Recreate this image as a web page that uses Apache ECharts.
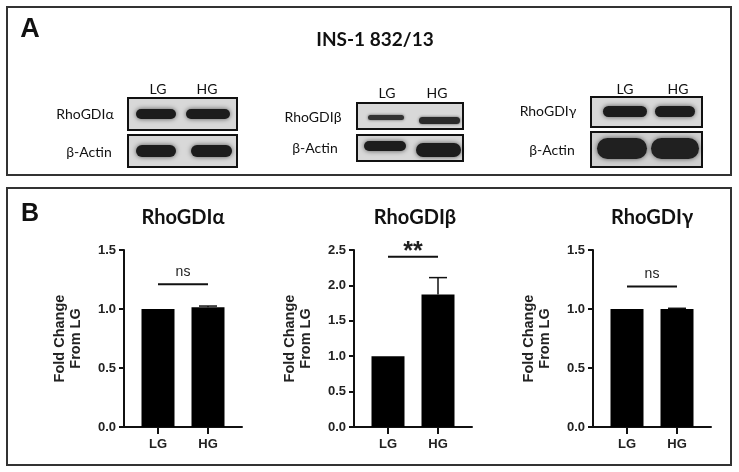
<!DOCTYPE html>
<html>
<head>
<meta charset="utf-8">
<script src="https://cdn.jsdelivr.net/npm/echarts@6/dist/echarts.min.js"></script>
<style>
html,body{margin:0;padding:0;background:#fff;}
#c{width:739px;height:472px;}
</style>
</head>
<body>
<div id="c"></div>
<script>
// ---- data ----
const categories = ['LG', 'HG'];
const chartTitles = ['RhoGDIα', 'RhoGDIβ', 'RhoGDIγ'];
const alphaMean = [1.0, 1.015];
const alphaErr = [0, 0.01];
const betaMean = [1.0, 1.87];
const betaErr = [0, 0.24];
const gammaMean = [1.0, 1.0];
const gammaErr = [0, 0.006];
const sigLabels = ['ns', '**', 'ns'];
const sigLevels = [1.21, 2.405, 1.19];
const yMaxes = [1.5, 2.5, 1.5];
const yInterval = 0.5;
const yAxisName = 'Fold Change\nFrom LG';
const panelTitle = 'INS-1 832/13';
const blotProteins = ['RhoGDIα', 'RhoGDIβ', 'RhoGDIγ'];
const loadingControl = 'β-Actin';

const means = [alphaMean, betaMean, gammaMean];
const errs = [alphaErr, betaErr, gammaErr];

// ---- layout ----
const gridLefts = [124, 354, 593];
const gridW = 118;
const titleX = [178, 410, 647];
const AXIS_FONT = '"Liberation Sans", Arial, sans-serif';
const TITLE_FONT = 'Lato, "Open Sans", sans-serif';

const chart = echarts.init(document.getElementById('c'));

const grids = [], xAxes = [], yAxes = [], series = [], titles = [];
for (let i = 0; i < 3; i++) {
  grids.push({left: gridLefts[i], width: gridW, top: 250, bottom: 45, containLabel: false});
  xAxes.push({
    type: 'value', gridIndex: i, min: -0.68, max: 1.68,
    splitLine: {show: false},
    axisLine: {show: true, onZero: false, lineStyle: {color: '#111', width: 2}},
    axisTick: {show: true, customValues: [0, 1], length: 7, lineStyle: {color: '#111', width: 2}},
    axisLabel: {customValues: [0, 1], formatter: v => categories[Math.round(v)] || '',
      fontFamily: AXIS_FONT, fontWeight: 'bold', fontSize: 13, color: '#222', margin: 11}
  });
  yAxes.push({
    type: 'value', gridIndex: i, min: 0, max: yMaxes[i], interval: yInterval,
    splitLine: {show: false},
    axisLine: {show: true, onZero: false, lineStyle: {color: '#111', width: 2}},
    axisTick: {show: true, length: 5, lineStyle: {color: '#111', width: 2}},
    axisLabel: {formatter: v => v.toFixed(1), fontFamily: AXIS_FONT, fontWeight: 'bold',
      fontSize: 13, color: '#222', margin: 8},
    name: yAxisName, nameLocation: 'middle', nameGap: 40,
    nameTextStyle: {fontFamily: AXIS_FONT, fontWeight: 'bold', fontSize: 14.5, lineHeight: 16, color: '#222'}
  });
  series.push({
    type: 'bar', xAxisIndex: i, yAxisIndex: i, barWidth: 33,
    itemStyle: {color: '#000'},
    data: means[i].map((v, k) => [k, v])
  });
  series.push({
    type: 'custom', xAxisIndex: i, yAxisIndex: i, z: 5,
    data: means[i].map((v, k) => [k, v, errs[i][k]]).filter(d => d[2] > 0),
    encode: {x: 0, y: 1},
    renderItem: function (params, api) {
      const x = api.value(0), m = api.value(1), e = api.value(2);
      const p0 = api.coord([x, m]);
      const p1 = api.coord([x, m + e]);
      return {type: 'group', children: [
        {type: 'line', shape: {x1: p0[0], y1: p0[1], x2: p1[0], y2: p1[1]}, style: {stroke: '#111', lineWidth: 1.5}},
        {type: 'line', shape: {x1: p1[0] - 9, y1: p1[1], x2: p1[0] + 9, y2: p1[1]}, style: {stroke: '#111', lineWidth: 1.5}}
      ]};
    }
  });
  const lab = sigLabels[i];
  series.push({
    type: 'custom', xAxisIndex: i, yAxisIndex: i, z: 5,
    data: [[0, 1, sigLevels[i]]],
    encode: {x: [0, 1], y: 2},
    renderItem: function (params, api) {
      const p0 = api.coord([api.value(0), api.value(2)]);
      const p1 = api.coord([api.value(1), api.value(2)]);
      const isStar = lab.indexOf('*') >= 0;
      return {type: 'group', children: [
        {type: 'line', shape: {x1: p0[0], y1: p0[1], x2: p1[0], y2: p1[1]}, style: {stroke: '#111', lineWidth: 2}},
        {type: 'text', x: (p0[0] + p1[0]) / 2, y: p0[1] - (isStar ? 5 : 12),
          style: {text: lab, textAlign: 'center', textVerticalAlign: 'middle',
            font: isStar ? 'bold 25px ' + AXIS_FONT : '14px ' + AXIS_FONT, fill: '#222'}}
      ]};
    }
  });
  titles.push({text: chartTitles[i], left: titleX[i], top: 203, textAlign: 'center',
    textStyle: {fontFamily: TITLE_FONT, fontWeight: 'bold', fontSize: 20, color: '#111'}});
}
titles.push({text: panelTitle, left: 370, top: 25, textAlign: 'center',
  textStyle: {fontFamily: TITLE_FONT, fontWeight: 'bold', fontSize: 19, color: '#111'}});

// ---- blot illustration (panel A) ----
const g = [];
function panel(x, y, w, h) {
  g.push({type: 'rect', shape: {x: x, y: y, width: w, height: h}, style: {fill: 'none', stroke: '#333', lineWidth: 2}, z: 1});
}
function box(x, y, w, h, fill) {
  g.push({type: 'rect', shape: {x: x, y: y, width: w, height: h}, style: {fill: fill || '#d8d8d8', stroke: '#111', lineWidth: 2}, z: 2});
}
function band(x, y, w, h, c, blur) {
  g.push({type: 'rect', shape: {x: x, y: y, width: w, height: h, r: h / 2}, style: {fill: c || '#1c1c1c', shadowBlur: blur || 5, shadowColor: 'rgba(0,0,0,0.6)'}, z: 3});
}
function text(t, x, y, size, weight, family, align) {
  g.push({type: 'text', x: x, y: y, style: {text: t, textAlign: align || 'center', textVerticalAlign: 'middle',
    font: (weight || 'normal') + ' ' + size + 'px ' + (family || TITLE_FONT), fill: '#111'}, z: 4});
}
panel(7, 7, 724, 168);
panel(7, 188, 724, 277);
text('A', 30, 30, 27, 'bold', AXIS_FONT);
text('B', 30, 214, 25, 'bold', AXIS_FONT);

// blot 1
text(categories[0], 158, 89, 14); text(categories[1], 207, 89, 14);
text(blotProteins[0], 85, 114, 14); text(loadingControl, 89, 152, 14);
box(128, 98, 109, 32); box(128, 135, 109, 32);
band(136, 109, 40, 10); band(186, 109, 44, 10);
band(136, 145, 40, 12); band(191, 145, 41, 12);
// blot 2
text(categories[0], 387, 93, 14); text(categories[1], 437, 93, 14);
text(blotProteins[1], 313, 117, 14); text(loadingControl, 315, 148, 14);
box(357, 103, 106, 26); box(357, 135, 106, 26);
band(368, 115, 36, 5, '#333', 3); band(419, 117, 41, 7, '#2a2a2a', 3);
band(364, 141, 42, 10); band(416, 143, 45, 14);
// blot 3
text(categories[0], 625, 89, 14); text(categories[1], 678, 89, 14);
text(blotProteins[2], 548, 111, 14); text(loadingControl, 552, 150, 14);
box(591, 97, 111, 30); box(591, 132, 111, 35, '#cfcfcf');
band(603, 106, 44, 11); band(655, 106, 40, 11);
band(597, 138, 50, 21, '#202020', 5); band(651, 138, 48, 21, '#202020', 5);

chart.setOption({
  backgroundColor: '#fff',
  animation: false,
  title: titles,
  grid: grids,
  xAxis: xAxes,
  yAxis: yAxes,
  series: series,
  graphic: {elements: g}
});
</script>
</body>
</html>
